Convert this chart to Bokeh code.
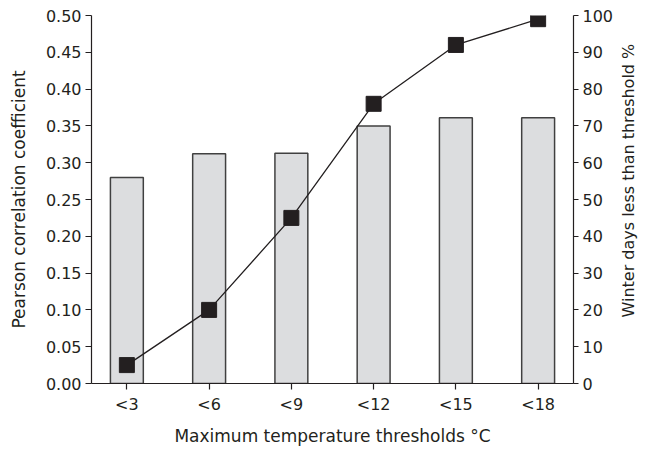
import math
from bokeh.plotting import figure
from bokeh.layouts import row
from bokeh.models import Range1d, LinearAxis, FixedTicker, NumeralTickFormatter, ColumnDataSource, Label
from bokeh.embed import file_html
from bokeh.resources import INLINE

categories = ["<3", "<6", "<9", "<12", "<15", "<18"]
pearson = [0.28, 0.312, 0.313, 0.350, 0.361, 0.361]
winter_pct = [5, 20, 45, 76, 92, 99]
left_ticks = [0.0, 0.05, 0.10, 0.15, 0.20, 0.25, 0.30, 0.35, 0.40, 0.45, 0.50]
right_ticks = [0, 10, 20, 30, 40, 50, 60, 70, 80, 90, 100]

xs = list(range(len(categories)))
src = ColumnDataSource(dict(x=xs, r=pearson, w=winter_pct))

INK = "#231f20"
FONT = "DejaVu Sans"

H = 448
TOP, BOTTOM = 15, 61
p = figure(width=616, height=H, output_backend="svg", toolbar_location=None,
           x_range=Range1d(-0.43, len(categories) - 1 + 0.43), y_range=Range1d(0, 0.5),
           min_border_left=91, min_border_right=40, min_border_top=TOP, min_border_bottom=BOTTOM)
p.outline_line_color = None
p.grid.visible = False
p.background_fill_color = "white"
p.border_fill_color = "white"

p.extra_y_ranges = {"pct": Range1d(0, 100)}

p.vbar(x="x", top="r", width=0.4, bottom=0, source=src, fill_color="#dcdddf",
       line_color="#404040", line_width=1.5)
p.line(x="x", y="w", source=src, y_range_name="pct", line_color=INK, line_width=1.3)
p.scatter(x="x", y="w", source=src, y_range_name="pct", marker="square", size=15,
          fill_color=INK, line_color=INK)

def style(ax):
    ax.axis_line_color = INK
    ax.axis_line_width = 1.2
    ax.major_tick_line_color = INK
    ax.major_tick_line_width = 1.2
    ax.major_tick_in = 0
    ax.major_tick_out = 6
    ax.minor_tick_line_color = None
    ax.major_label_text_font = FONT
    ax.major_label_text_font_size = "16px"
    ax.major_label_text_color = INK
    ax.axis_label_text_font = FONT
    ax.axis_label_text_font_size = "17px"
    ax.axis_label_text_font_style = "normal"
    ax.axis_label_text_color = INK

xa = p.xaxis[0]
style(xa)
xa.ticker = FixedTicker(ticks=xs)
xa.major_label_overrides = {i: c for i, c in zip(xs, categories)}
xa.major_tick_out = 6
xa.major_label_standoff = 5
xa.axis_label = "Maximum temperature thresholds °C"
xa.axis_label_standoff = 9

ya = p.yaxis[0]
style(ya)
ya.ticker = FixedTicker(ticks=left_ticks)
ya.formatter = NumeralTickFormatter(format="0.00")
ya.major_label_standoff = 4
ya.axis_label = "Pearson correlation coefficient"
ya.axis_label_standoff = 14

ra = LinearAxis(y_range_name="pct")
style(ra)
ra.ticker = FixedTicker(ticks=right_ticks)
ra.major_tick_out = 5
ra.major_label_standoff = 4
p.add_layout(ra, "right")

# side strip holding the right-hand axis title (reads bottom-to-top)
side = figure(width=26, height=H, output_backend="svg", toolbar_location=None,
              x_range=Range1d(0, 1), y_range=Range1d(0, H), min_border=0)
side.axis.visible = False
side.grid.visible = False
side.outline_line_color = None
side.background_fill_color = "white"
side.border_fill_color = "white"
frame_mid = (BOTTOM + (H - TOP)) / 2
side.add_layout(Label(x=0.45, y=frame_mid, text="Winter days less than threshold %",
                      angle=math.pi / 2, text_align="center", text_baseline="middle",
                      text_font=FONT, text_font_size="16px", text_color=INK))

layout = row(p, side)
open("out.html", "w").write(file_html(layout, INLINE))
